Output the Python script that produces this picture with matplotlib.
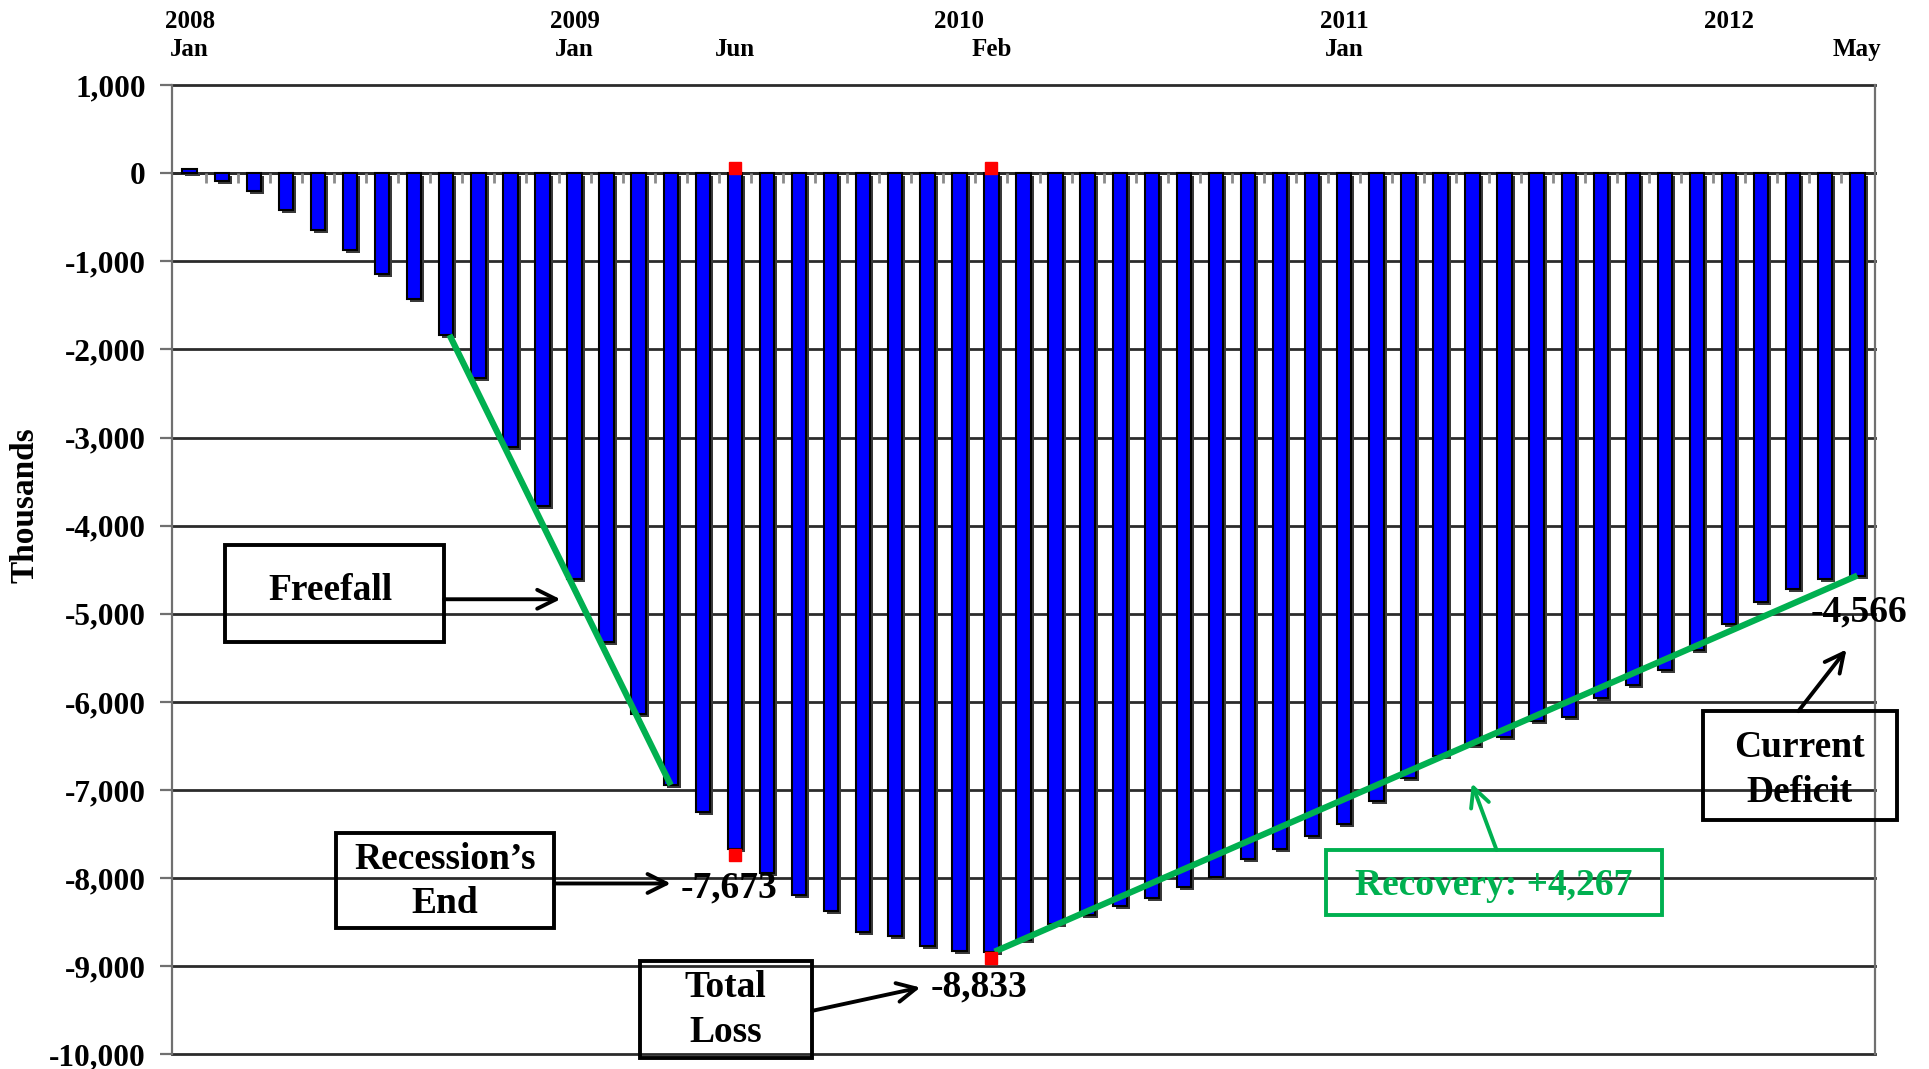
import matplotlib
matplotlib.use("Agg")
import matplotlib.pyplot as plt
import matplotlib.transforms as mtransforms
from matplotlib.patches import Rectangle
import numpy as np

# cumulative change in payroll jobs since Jan 2008, thousands
jobs = [50, -94, -208, -423, -642, -875, -1140, -1426, -1836, -2321, -3113, -3774,
        -4604, -5321, -6132, -6943, -7245, -7673, -7943, -8189, -8377, -8615, -8653, -8766,
        -8823, -8833, -8698, -8517, -8423, -8321, -8226, -8102, -7981, -7786, -7665, -7517,
        -7389, -7125, -6868, -6611, -6491, -6396, -6219, -6170, -5951, -5811, -5642, -5415,
        -5113, -4868, -4717, -4604, -4566]

year_pos = [0, 12, 24, 36, 48]
year_labels = ["2008", "2009", "2010", "2011", "2012"]
month_pos = [0, 12, 17, 25, 36, 52]
month_labels = ["Jan", "Jan", "Jun", "Feb", "Jan", "May"]

yticks = list(range(-10000, 1001, 1000))

marker_idx = [17, 25]          # recession end, trough
freefall = (8, 15)
recovery = (25, 52)

plt.rcParams['font.family'] = ['Liberation Serif', 'DejaVu Serif']
plt.rcParams['font.weight'] = 'bold'

fig = plt.figure(figsize=(19.29, 10.69), dpi=100)
ax = fig.add_axes([0.0892, 0.0136, 0.8828, 0.9069])

x = np.arange(len(jobs))
ax.set_xlim(-0.55, 52.55)
ax.set_ylim(-10000, 1000)

# horizontal grid, drawn unclipped so the edge lines are full width
for v in yticks:
    ax.axhline(v, color='#2b2b2b', lw=2.0, zorder=1, clip_on=False)

# bars with a dark drop shadow
shadow = ax.transData + mtransforms.ScaledTranslation(3 / 100, -3 / 100, fig.dpi_scale_trans)
ax.bar(x, jobs, width=0.45, color='#3a3a3a', zorder=2, transform=shadow)
ax.bar(x, jobs, width=0.45, color='#0000ff', edgecolor='black', lw=1.5, zorder=3)

# spines
ax.spines['top'].set_visible(False)
ax.spines['bottom'].set_position(('data', 0))
ax.spines['bottom'].set_color('#2b2b2b')
ax.spines['bottom'].set_linewidth(2.0)
ax.spines['bottom'].set_zorder(1)
for s in ['left', 'right']:
    ax.spines[s].set_color('#707070')
    ax.spines[s].set_linewidth(1.6)

ax.set_xticks(x[:-1] + 0.5)
ax.set_xticklabels([])
ax.tick_params(axis='x', direction='out', length=7, width=2, color='#8a8a8a')
ax.set_yticks(yticks)
ax.set_yticklabels([f"{v:,}" for v in yticks], fontsize=22.5, fontweight='bold')
ax.tick_params(axis='y', direction='out', length=9, width=1.6, color='#707070', pad=10)
ax.set_ylabel("Thousands", fontsize=24, fontweight='bold')
ax.yaxis.set_label_coords(-0.077, 0.567)

# year / month labels above the plot
tx = ax.get_xaxis_transform()
for p, t in zip(year_pos, year_labels):
    ax.text(p, 1.066, t, transform=tx, ha='center', va='center', fontsize=18, fontweight='bold')
for p, t in zip(month_pos, month_labels):
    ax.text(p, 1.037, t, transform=tx, ha='center', va='center', fontsize=18, fontweight='bold')

# red markers at recession end and trough
up = ax.transData + mtransforms.ScaledTranslation(0, 5 / 100, fig.dpi_scale_trans)
down = ax.transData + mtransforms.ScaledTranslation(0, -6 / 100, fig.dpi_scale_trans)
for i in marker_idx:
    ax.plot(i, 0, marker='s', ms=9, color='red', mec='red', zorder=6, transform=up, clip_on=False)
    ax.plot(i, jobs[i], marker='s', ms=9, color='red', mec='red', zorder=6, transform=down)

# green trend lines
green = '#00b050'
for a, b in [freefall, recovery]:
    ax.plot([a + 0.1, b], [jobs[a], jobs[b]], color=green, lw=4.5, zorder=5,
            solid_capstyle='butt')

# annotation boxes
def box(x0, x1, y0, y1, color='black'):
    ax.add_patch(Rectangle((x0, y0), x1 - x0, y1 - y0, fill=False, ec=color, lw=2.8,
                           zorder=7, clip_on=False))

def arrow(xa, ya, xb, yb, color='black'):
    ax.annotate('', xy=(xb, yb), xytext=(xa, ya), zorder=7, annotation_clip=False,
                arrowprops=dict(arrowstyle='->', lw=2.8, color=color, mutation_scale=34,
                                shrinkA=0, shrinkB=0))

fs = 27
box(1.11, 7.93, -5320, -4220)
ax.text(4.4, -4740, "Freefall", ha='center', va='center', fontsize=fs, zorder=8)
arrow(7.93, -4835, 11.56, -4835)

box(4.56, 11.37, -8570, -7485)
ax.text(7.95, -7790, "Recession\u2019s", ha='center', va='center', fontsize=fs, zorder=8)
ax.text(7.95, -8290, "End", ha='center', va='center', fontsize=fs, zorder=8)
arrow(11.37, -8060, 15.0, -8060)
ax.text(15.3, -8110, f"{jobs[17]:,}", ha='left', va='center', fontsize=fs, zorder=8)

box(14.05, 19.41, -10035, -8935)
ax.text(16.7, -9240, "Total", ha='center', va='center', fontsize=fs, zorder=8)
ax.text(16.7, -9755, "Loss", ha='center', va='center', fontsize=fs, zorder=8)
arrow(19.41, -9505, 22.78, -9240)
ax.text(23.1, -9240, f"{jobs[25]:,}", ha='left', va='center', fontsize=fs, zorder=8)

box(47.18, 53.23, -7345, -6100)
ax.text(50.2, -6520, "Current", ha='center', va='center', fontsize=fs, zorder=8)
ax.text(50.2, -7025, "Deficit", ha='center', va='center', fontsize=fs, zorder=8)
arrow(50.16, -6105, 51.66, -5405)
ax.text(52.05, -4975, f"{jobs[52]:,}", ha='center', va='center', fontsize=fs, zorder=8)

box(35.42, 45.91, -8420, -7680, color=green)
ax.text(40.67, -8085, f"Recovery: +{jobs[52] - jobs[25]:,}", ha='center', va='center',
        fontsize=fs, color=green, zorder=8)
arrow(40.75, -7680, 39.98, -6925, color=green)

fig.savefig("out.png", dpi=100)
